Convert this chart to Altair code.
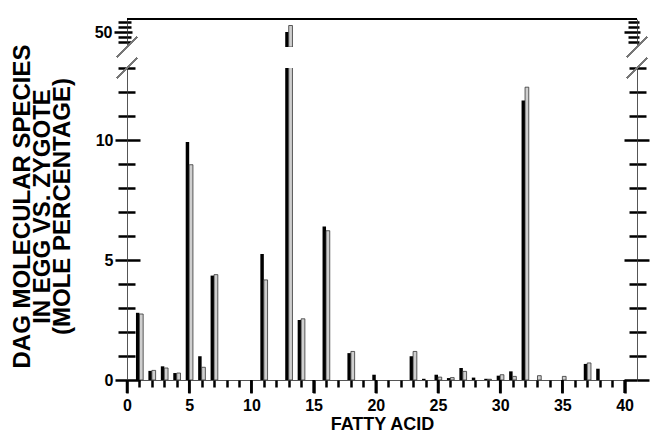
import altair as alt
import pandas as pd

# ---- data ----
fatty_acid = list(range(0, 41))
egg = [0, 2.80, 0.38, 0.57, 0.29, 9.92, 0.99, 4.35, 0, 0,
       0, 5.25, 0, 50.0, 2.50, 0, 6.40, 0, 1.12, 0,
       0.22, 0, 0, 0.99, 0.05, 0.22, 0.08, 0.50, 0.10, 0.05,
       0.18, 0.36, 11.65, 0, 0, 0, 0, 0.67, 0.47, 0,
       0]
zygote = [0, 2.75, 0.40, 0.50, 0.29, 8.97, 0.53, 4.39, 0, 0,
          0, 4.17, 0, 51.3, 2.55, 0, 6.22, 0, 1.19, 0,
          0, 0, 0, 1.19, 0, 0.12, 0.10, 0.36, 0, 0.03,
          0.22, 0.15, 12.20, 0.18, 0, 0.15, 0, 0.71, 0, 0,
          0]
lower_ticks = list(range(0, 14))
upper_ticks = [48, 49, 50, 51, 52]
x_major = [0, 5, 10, 15, 20, 25, 30, 35, 40]
x_minor = [v for v in range(0, 41) if v % 5 != 0]

df = pd.DataFrame({"fa": fatty_acid, "egg": egg, "zygote": zygote})
major_df = pd.DataFrame({"tick": x_major})

W = 510
H_LOW = 312
H_UP = 28
FONT = "Liberation Sans"
XDOM = [0, 41]


def cond(test, a, b):
    return {"condition": {"test": test, "value": a}, "value": b}


def tick_axis(orient, values, size):
    return alt.Axis(orient=orient, values=values, ticks=True, tickSize=size,
                    tickWidth=2.5, tickColor="black", domain=False, labels=False,
                    grid=False, title=None, zindex=1)


def panel(ydom, height, yticks, major_test, lower):
    xs = alt.Scale(domain=XDOM, nice=False, zero=False)
    ys = alt.Scale(domain=ydom, nice=False, zero=False)
    lo = ydom[0]
    if lower:
        xaxis_main = alt.Axis(orient="bottom", values=x_major, ticks=False,
                              domainColor="#555", domainWidth=1,
                              labelFont=FONT, labelFontSize=16, labelFontWeight="bold",
                              labelColor="black", labelPadding=17, labelFlush=False,
                              labelOverlap=False, grid=False, title="FATTY ACID",
                              titleFont=FONT, titleFontSize=18, titleFontWeight="bold",
                              titleColor="black", titlePadding=2)
        xaxis_minor = tick_axis("bottom", x_minor, 7)
        xaxis_major = tick_axis("bottom", x_major, 13)
    else:
        xaxis_main = None
        xaxis_minor = None
        xaxis_major = None

    big_out = 12 if lower else 13
    small_out = 9
    big_in = 13 if lower else 5
    small_in = 8 if lower else 4

    left_axis = alt.Axis(orient="left", values=yticks,
                         labelExpr=("(datum.value % 5 === 0) ? datum.label : ''") if lower
                         else "datum.value === 50 ? datum.label : ''",
                         tickSize=cond(major_test, big_out, small_out), tickWidth=2.5,
                         tickColor="black", domainColor="#555", domainWidth=1,
                         labelFont=FONT, labelFontSize=16, labelFontWeight="bold",
                         labelColor="black", labelPadding=2, labelFlush=False,
                         labelOverlap=False, grid=False,
                         title=["DAG MOLECULAR SPECIES", "IN EGG VS. ZYGOTE", "(MOLE PERCENTAGE)"] if lower else None,
                         titleFont=FONT, titleFontSize=24, titleFontWeight="bold",
                         titleColor="black", titlePadding=21, titleLineHeight=20,
                         **({"titleY": 138} if lower else {}))
    right_axis = alt.Axis(orient="right", values=yticks, labels=False,
                          tickSize=cond(major_test, big_out if lower else 3, small_out if lower else 2),
                          tickWidth=2.5, tickColor="black", domainColor="#555", domainWidth=1,
                          grid=False, title=None)
    left_in = alt.Axis(orient="right", offset=-W, values=yticks, labels=False, domain=False,
                       tickSize=cond(major_test, big_in, small_in), tickWidth=2.5,
                       tickColor="black", grid=False, title=None)
    right_in = alt.Axis(orient="left", offset=-W, values=yticks, labels=False, domain=False,
                        tickSize=cond(major_test, 13, 8 if lower else 9),
                        tickWidth=2.5, tickColor="black", grid=False, title=None)

    b = alt.Chart(df)
    black = b.transform_filter(f"datum.egg > {lo}").transform_calculate(
        x0="datum.fa - 0.28").mark_bar(color="black", clip=True).encode(
        x=alt.X("x0:Q", scale=xs, axis=xaxis_main), x2="fa:Q",
        y=alt.Y("egg:Q", scale=ys, axis=left_axis), y2=alt.datum(lo))
    gray = b.transform_filter(f"datum.zygote > {lo}").transform_calculate(
        x1="datum.fa + 0.3").mark_bar(fill="#cfcfcf", stroke="#333", strokeWidth=0.8,
                                       clip=True).encode(
        x=alt.X("fa:Q", scale=xs, axis=xaxis_minor), x2="x1:Q",
        y=alt.Y("zygote:Q", scale=ys, axis=right_axis), y2=alt.datum(lo))
    inv1 = b.mark_point(opacity=0, clip=True).encode(
        x=alt.X("fa:Q", scale=xs, axis=xaxis_major), y=alt.Y("egg:Q", scale=ys, axis=left_in))
    inv2 = b.mark_point(opacity=0, clip=True).encode(
        x=alt.X("fa:Q", scale=xs, axis=None), y=alt.Y("zygote:Q", scale=ys, axis=right_in))

    layers = [black, gray, inv1, inv2]
    if lower:
        # long x-axis ticks at every fifth fatty acid
        layers.append(alt.Chart(major_df).mark_rule(color="black", strokeWidth=2.5).encode(
            x=alt.X("tick:Q", scale=xs, axis=None),
            y=alt.value(height), y2=alt.value(height + 13)))
    yb = height if not lower else 0
    for xc in (0, W):
        layers.append(b.mark_rule(color="#777", strokeWidth=1.2).encode(
            x=alt.value(xc - 10), x2=alt.value(xc + 10),
            y=alt.value(yb + 10), y2=alt.value(yb - 10)))
    if not lower:
        # top frame line of the broken-axis box
        layers.append(b.mark_rule(color="black", strokeWidth=1.5).encode(
            x=alt.value(0), x2=alt.value(W), y=alt.value(0)))

    return alt.layer(*layers).resolve_scale(
        x="independent", y="independent").properties(width=W, height=height)


upper = panel([47, 52.6], H_UP, upper_ticks, "datum.value === 50", False)
lower = panel([0, 13], H_LOW, lower_ticks, "datum.value % 5 === 0", True)

chart = alt.vconcat(upper, lower, spacing=21, bounds="flush").properties(
    padding={"top": 6, "left": 2, "right": 0, "bottom": 0}
).configure_view(stroke=None)

chart.save("out.html", embed_options={"renderer": "svg", "actions": False})
